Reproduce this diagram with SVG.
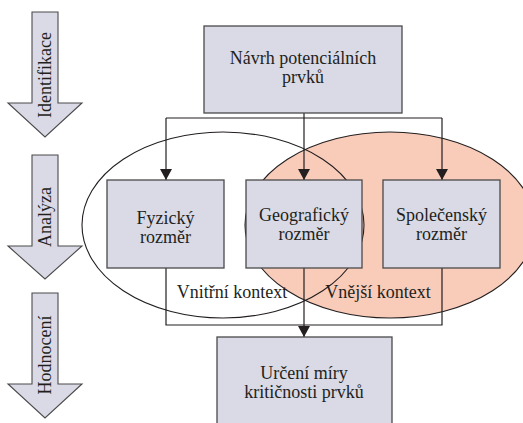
<svg xmlns="http://www.w3.org/2000/svg" width="523" height="423" viewBox="0 0 523 423" font-family="'Liberation Serif', 'Times New Roman', serif">
<defs>
<style>
.box{fill:#d9dae6;stroke:#4a4a4a;stroke-width:1.3}
.stage{fill:#d9dae6;stroke:#4a4a4a;stroke-width:1.1}
.t{font-family:'Liberation Serif','Times New Roman',serif;font-size:18px;fill:#231f20;text-anchor:middle}
.ln{fill:none;stroke:#231f20;stroke-width:1.2}
</style>
<marker id="ah" markerWidth="12" markerHeight="12" refX="11" refY="6" orient="auto" markerUnits="userSpaceOnUse">
<path d="M0,0 L11,6 L0,12 Z" fill="#231f20"/>
</marker>
</defs>
<rect width="523" height="423" fill="#ffffff"/>

<g id="contexts">
<ellipse cx="390" cy="225" rx="145" ry="93" fill="#f9cbb9" stroke="#231f20" stroke-width="1.1"/>
<ellipse cx="223" cy="225" rx="141" ry="93" fill="none" stroke="#231f20" stroke-width="1.1"/>
<text class="t" x="232" y="298">Vnitřní kontext</text>
<text class="t" x="378" y="298">Vnější kontext</text>
</g>

<g id="stage-identifikace">
<path class="stage" d="M32,12 H58 V103 H82 L45,137 L8,103 H32 Z"/>
<text class="t" transform="translate(51,75) rotate(-90)">Identifikace</text>
</g>
<g id="stage-analyza">
<path class="stage" d="M32,155 H58 V246 H82 L45,279 L8,246 H32 Z"/>
<text class="t" transform="translate(51,217) rotate(-90)">Analýza</text>
</g>
<g id="stage-hodnoceni">
<path class="stage" d="M32,293 H58 V384 H82 L45,418 L8,384 H32 Z"/>
<text class="t" transform="translate(51,355) rotate(-90)">Hodnocení</text>
</g>

<g id="connectors">
<path class="ln" d="M304,113 V118 M166,118 H442"/>
<path class="ln" d="M166,118 V180" marker-end="url(#ah)"/>
<path class="ln" d="M304,118 V180" marker-end="url(#ah)"/>
<path class="ln" d="M442,118 V180" marker-end="url(#ah)"/>
<path class="ln" d="M166,268 V325 H442 V268"/>
<path class="ln" d="M304,268 V337" marker-end="url(#ah)"/>
</g>

<g id="navrh">
<rect class="box" x="204" y="26" width="198" height="87"/>
<text class="t" x="303" y="64">Návrh potenciálních</text>
<text class="t" x="303" y="83">prvků</text>
</g>
<g id="fyzicky">
<rect class="box" x="107" y="180" width="117" height="88"/>
<text class="t" x="165.5" y="224">Fyzický</text>
<text class="t" x="165.5" y="243">rozměr</text>
</g>
<g id="geograficky">
<rect class="box" x="246" y="180" width="116" height="88"/>
<text class="t" x="304" y="221">Geografický</text>
<text class="t" x="304" y="240">rozměr</text>
</g>
<g id="spolecensky">
<rect class="box" x="383" y="180" width="117" height="88"/>
<text class="t" x="441.5" y="221">Společenský</text>
<text class="t" x="441.5" y="240">rozměr</text>
</g>
<g id="urceni">
<rect class="box" x="217" y="337" width="175" height="95"/>
<text class="t" x="304" y="379">Určení míry</text>
<text class="t" x="304" y="398">kritičnosti prvků</text>
</g>
</svg>
